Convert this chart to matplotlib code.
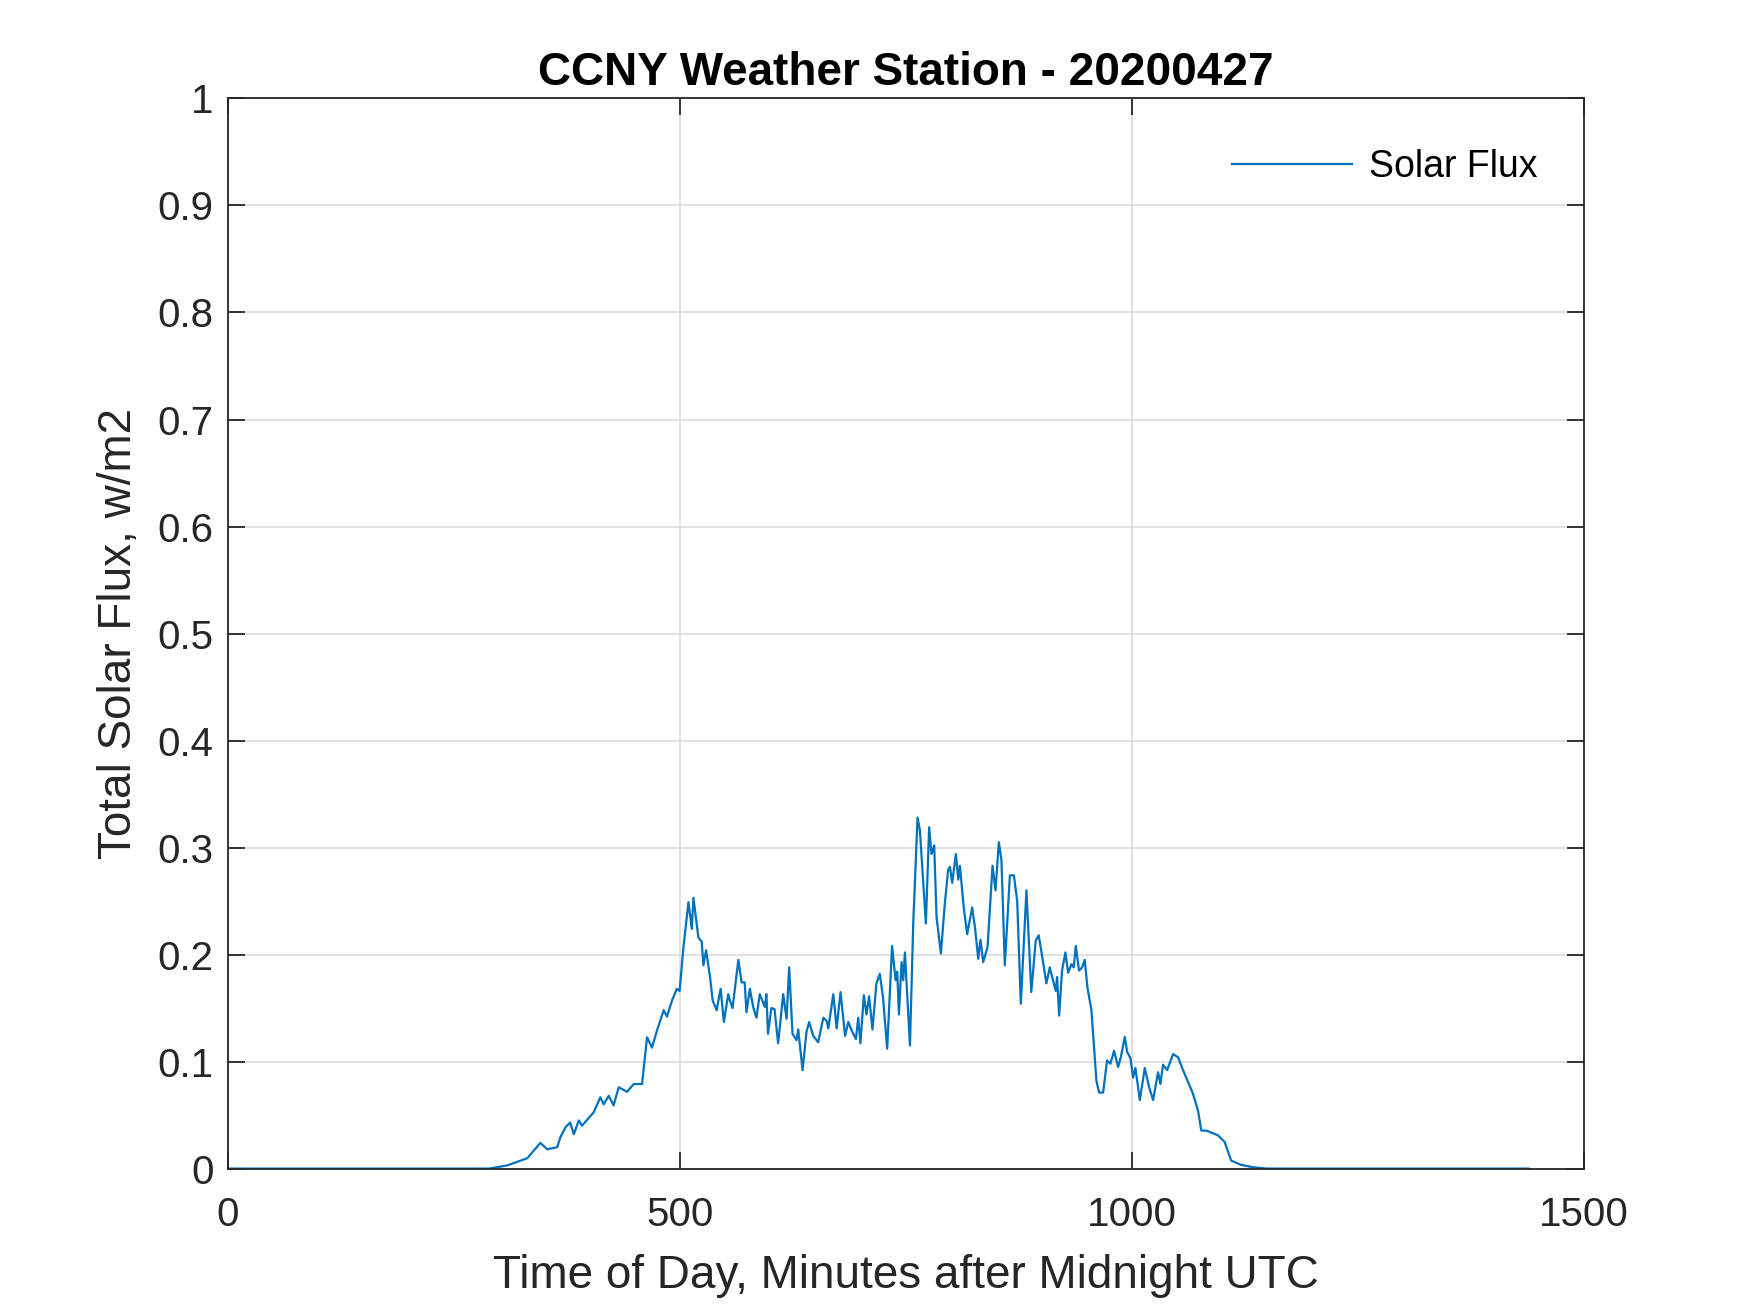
import numpy as np
import matplotlib.pyplot as plt

plt.rcParams['font.family'] = ['Liberation Sans', 'DejaVu Sans']

# minutes after midnight UTC
minutes = [0, 290, 309.5, 331.6, 346, 353.6, 364.6, 368, 373.8, 379, 383, 388.5, 392,
           405, 412.4, 416, 421.6, 427, 432.7, 441.9, 449.3, 458.5, 464, 469.5, 475,
           482.4, 486, 491.6, 497, 500, 504.3, 509.8, 513.5, 515.3, 520.8, 524.5,
           526.3, 529.3, 533.7, 536.6, 541, 545.4, 549, 553.8, 555.7, 558.6, 565,
           568.6, 572, 574, 577.7, 581.4, 585, 588.7, 594.3, 596, 597.8, 601.5, 605,
           609, 614.6, 618.3, 621.2, 624.9, 629.3, 631.2, 636, 640.4, 643.3, 647.8,
           653.3, 659, 662.7, 664.5, 670, 673.7, 678, 683, 686.6, 690.3, 695, 697.6,
           700, 703.8, 706.7, 709.6, 713.3, 717.7, 721.4, 725, 729.6, 735, 738.9,
           740.7, 742.6, 745.5, 747.4, 749.2, 754.8, 758.4, 763.2, 765.8, 772.4, 776,
           778.6, 781.6, 784.2, 789, 793.3, 797, 799, 801.5, 805.6, 808.2, 810, 814.4,
           818.1, 823.6, 826.6, 830.3, 832.8, 835.8, 840.6, 846.1, 849.4, 853.1, 856,
           859.7, 865.3, 869.7, 873.4, 877.4, 883.6, 889, 893.9, 897.2, 902, 905.7,
           909.4, 913, 916, 917.5, 919.8, 923, 926.7, 929.7, 933.4, 935.9, 938.2,
           941.8, 945.2, 948.1, 951.1, 955.5, 961, 964, 968.4, 972.8, 976.5, 980.5,
           985, 988, 992.4, 995, 998.7, 1001.6, 1004.2, 1009, 1014.5, 1019.3, 1023.7,
           1029.2, 1031.8, 1034.7, 1039.2, 1045.8, 1051.3, 1056.8, 1062.3, 1067.8,
           1073.4, 1077, 1082.6, 1095.5, 1102.8, 1110, 1121, 1134, 1149, 1439]

# total solar flux, w/m2
flux = [0, 0, 0.003, 0.0097, 0.024, 0.018, 0.020, 0.029, 0.0386, 0.043, 0.032, 0.045,
        0.040, 0.0526, 0.0667, 0.060, 0.068, 0.059, 0.076, 0.0717, 0.079, 0.079,
        0.1227, 0.113, 0.129, 0.148, 0.142, 0.157, 0.168, 0.166, 0.207, 0.249,
        0.224, 0.253, 0.216, 0.212, 0.190, 0.204, 0.179, 0.157, 0.148, 0.168,
        0.137, 0.163, 0.157, 0.150, 0.195, 0.174, 0.174, 0.146, 0.168, 0.151,
        0.141, 0.163, 0.151, 0.163, 0.126, 0.150, 0.149, 0.117, 0.163, 0.140,
        0.188, 0.126, 0.120, 0.130, 0.092, 0.128, 0.137, 0.124, 0.118, 0.141,
        0.138, 0.131, 0.163, 0.131, 0.165, 0.124, 0.137, 0.129, 0.121, 0.141,
        0.117, 0.162, 0.144, 0.161, 0.130, 0.173, 0.182, 0.160, 0.112, 0.208,
        0.176, 0.184, 0.144, 0.193, 0.176, 0.202, 0.115, 0.229, 0.328, 0.316,
        0.229, 0.319, 0.294, 0.302, 0.235, 0.201, 0.247, 0.279, 0.282, 0.267,
        0.294, 0.270, 0.283, 0.243, 0.219, 0.244, 0.226, 0.196, 0.214, 0.193,
        0.207, 0.283, 0.260, 0.305, 0.288, 0.190, 0.274, 0.274, 0.250, 0.154,
        0.260, 0.165, 0.213, 0.218, 0.193, 0.173, 0.188, 0.176, 0.166, 0.179,
        0.143, 0.185, 0.202, 0.183, 0.191, 0.188, 0.208, 0.185, 0.188, 0.195,
        0.169, 0.148, 0.082, 0.071, 0.071, 0.101, 0.098, 0.110, 0.095, 0.104,
        0.123, 0.109, 0.103, 0.085, 0.094, 0.064, 0.094, 0.076, 0.064, 0.090,
        0.079, 0.097, 0.092, 0.107, 0.104, 0.092, 0.081, 0.070, 0.054, 0.0355,
        0.0355, 0.031, 0.025, 0.0075, 0.0035, 0.0013, 0, 0]

fig = plt.figure(figsize=(17.5, 13.13), dpi=100)
ax = fig.add_axes([0.13, 0.11, 0.775, 0.815])
ax.plot(minutes, flux, color='#0072BD', lw=1.6, label='Solar Flux')

ax.set_xlim(0, 1500)
ax.set_ylim(0, 1)
ax.set_xticks([0, 500, 1000, 1500])
ax.set_yticks(np.arange(0, 1.01, 0.1))
ax.set_yticklabels(['0', '0.1', '0.2', '0.3', '0.4', '0.5', '0.6', '0.7', '0.8', '0.9', '1'])
ax.grid(True, color='#dcdcdc', lw=1.2)
ax.set_axisbelow(True)
dark = '#262626'
for s in ax.spines.values():
    s.set_color(dark)
    s.set_linewidth(1.3)
ax.tick_params(direction='in', length=12, width=1.3, color=dark, labelcolor=dark,
               labelsize=29, top=True, right=True)
ax.tick_params(axis='x', pad=20)
ax.tick_params(axis='y', pad=10)

ax.set_xlabel('Time of Day, Minutes after Midnight UTC', fontsize=33, color=dark, labelpad=14)
ax.set_ylabel('Total Solar Flux, w/m2', fontsize=33, color=dark, labelpad=12)
ax.set_title('CCNY Weather Station - 20200427', fontsize=33, fontweight='bold', pad=10)
ax.legend(loc='upper right', bbox_to_anchor=(0.9934, 0.9875), frameon=False,
          fontsize=27, handlelength=3.2, handletextpad=0.45, borderaxespad=0.6)

fig.savefig('out.png', dpi=100)
